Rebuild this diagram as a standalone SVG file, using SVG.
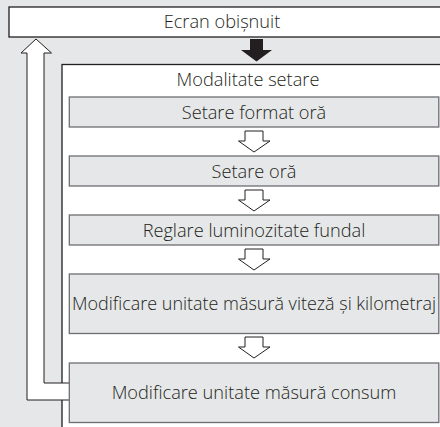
<svg xmlns="http://www.w3.org/2000/svg" width="440" height="427" viewBox="0 0 440 427">
<style>
text{font-family:"Open Sans","Noto Sans","Liberation Sans",sans-serif;font-size:18.2px;font-weight:300;fill:#231f20;text-anchor:middle}
.main{fill:#ffffff;stroke:#231f20;stroke-width:1.3}
.step{fill:#e6e7e8;stroke:#6d6e71;stroke-width:1.3}
.hollow{fill:#ffffff;stroke:#231f20;stroke-width:1}
</style>
<rect x="0" y="0" width="440" height="427" fill="#e6e7e8"/>
<g id="ecran">
<rect class="main" x="9" y="7" width="440" height="30"/>
<text x="222" y="27.5">Ecran obișnuit</text>
</g>
<g id="modalitate">
<rect class="main" x="62" y="64.5" width="390" height="380"/>
<text x="248" y="85.5">Modalitate setare</text>
</g>
<g id="connectors">
<polygon points="250,39 263,39 263,50 272,50 256.5,61.5 241,50 250,50" fill="#231f20"/>
<path class="hollow" d="M69,400 L27,400 L27,53 L21,53 L36,39 L51.5,53 L44,53 L44,383 L69,383"/>
<polygon class="hollow" points="245,131 263,131 263,141 270,141 254,152 238.5,141 245,141"/>
<polygon class="hollow" points="245,190 263,190 263,200 270,200 254,211 238.5,200 245,200"/>
<polygon class="hollow" points="245,249 263,249 263,259 270,259 254,270 238.5,259 245,259"/>
<polygon class="hollow" points="245,337 263,337 263,347 270,347 254,358 238.5,347 245,347"/>
</g>
<g id="step1">
<rect class="step" x="69.3" y="97" width="369.5" height="30"/>
<text x="254" y="118.5">Setare format oră</text>
</g>
<g id="step2">
<rect class="step" x="69.3" y="156" width="369.5" height="30"/>
<text x="254" y="177.5">Setare oră</text>
</g>
<g id="step3">
<rect class="step" x="69.3" y="215" width="369.5" height="30"/>
<text x="254" y="236.5">Reglare luminozitate fundal</text>
</g>
<g id="step4">
<rect class="step" x="69.3" y="274" width="369.5" height="59.5"/>
<text x="254" y="310" textLength="364" lengthAdjust="spacingAndGlyphs">Modificare unitate măsură viteză și kilometraj</text>
</g>
<g id="step5">
<rect class="step" x="69.3" y="363" width="369.5" height="59.5"/>
<text x="254" y="399">Modificare unitate măsură consum</text>
</g>
</svg>
